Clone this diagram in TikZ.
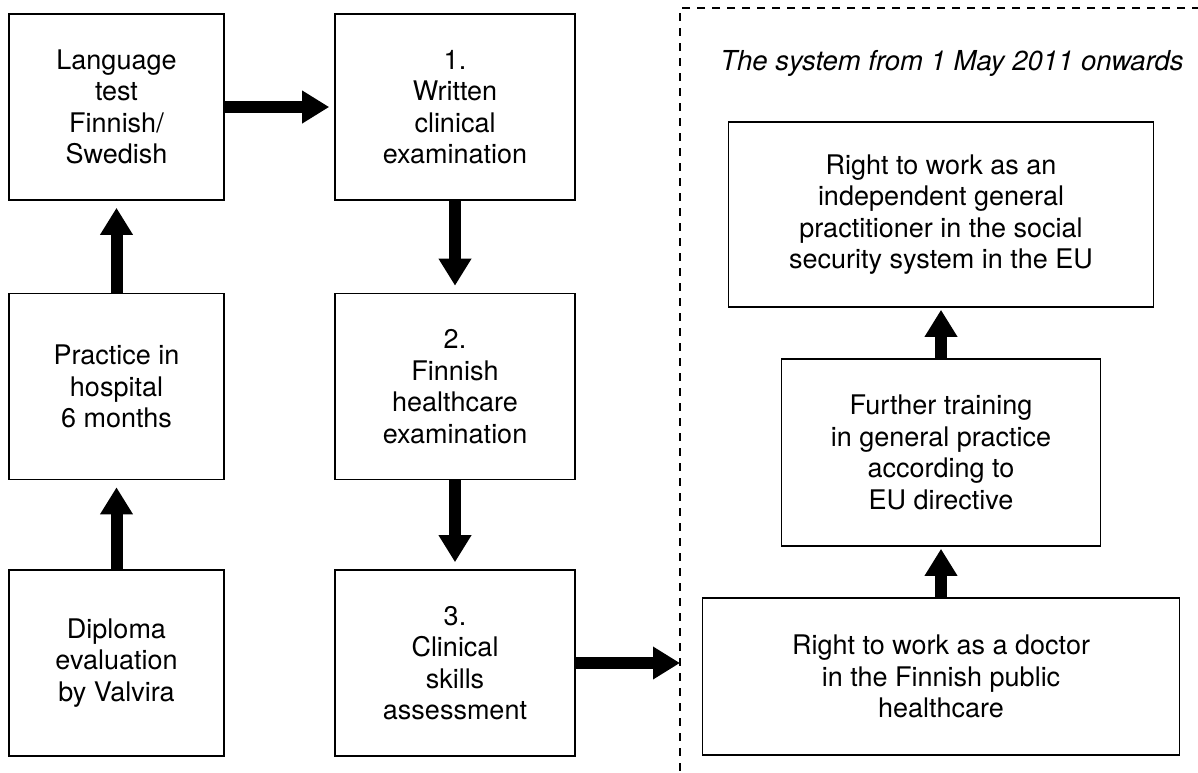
\documentclass[tikz,border=0pt]{standalone}
\usepackage{fontspec}
\setmainfont{TeX Gyre Heros}
\usetikzlibrary{arrows.meta}
\begin{document}
\begin{tikzpicture}[x=1pt,y=-1pt,
  box/.style={draw, line width=1.6pt, inner sep=0pt, align=center, font=\fontsize{27}{31.5}\selectfont},
  lbox/.style={box, minimum width=215pt, minimum height=186pt},
  mbox/.style={box, minimum width=240pt, minimum height=186pt},
  bigarrow/.style={line width=12pt, -{Triangle[width=31pt,length=27pt]}},
  region/.style={line width=1.6pt, dash pattern=on 8pt off 7pt},
]
\useasboundingbox (0,0) rectangle (1198,772);
% left column
\node[lbox] (L1) at (116.5,107) {Language\\test\\Finnish/\\Swedish};
\node[lbox] (L2) at (116.5,386.5) {Practice in\\hospital\\6 months};
\node[lbox] (L3) at (116.5,663) {Diploma\\evaluation\\by Valvira};
% middle column
\node[mbox] (M1) at (455,107) {1.\\Written\\clinical\\examination};
\node[mbox] (M2) at (455,386.5) {2.\\Finnish\\healthcare\\examination};
\node[mbox] (M3) at (455,663) {3.\\Clinical\\skills\\assessment};
% dashed region
\coordinate (dl) at (680,8);
\draw[region] (1200,8) -- (dl) -- (680,774);
\node[font=\itshape\fontsize{27.5}{31.5}\selectfont] (title) at (952,63) {The system from 1 May 2011 onwards};
% right column
\node[box, minimum width=425pt, minimum height=185pt] (R1) at (941,214.5) {Right to work as an\\independent general\\practitioner in the social\\security system in the EU};
\node[box, minimum width=319pt, minimum height=187pt] (R2) at (941,452.5) {Further training\\in general practice\\according to\\EU directive};
\node[box, minimum width=477pt, minimum height=157pt] (R3) at (941,676.5) {Right to work as a doctor\\in the Finnish public\\healthcare};
% connectors
\draw[bigarrow, shorten >=7pt] (L3.north) -- (L2.south);
\draw[bigarrow, shorten >=7pt] (L2.north) -- (L1.south);
\draw[bigarrow, shorten >=5pt] (L1.east) -- (M1.west);
\draw[bigarrow, shorten >=7pt] (M1.south) -- (M2.north);
\draw[bigarrow, shorten >=7pt] (M2.south) -- (M3.north);
\draw[bigarrow] (M3.east) -- (M3.east -| dl);
\draw[bigarrow, shorten >=2pt] (R3.north) -- (R2.south);
\draw[bigarrow, shorten >=2pt] (R2.north) -- (R1.south);
\end{tikzpicture}
\end{document}
